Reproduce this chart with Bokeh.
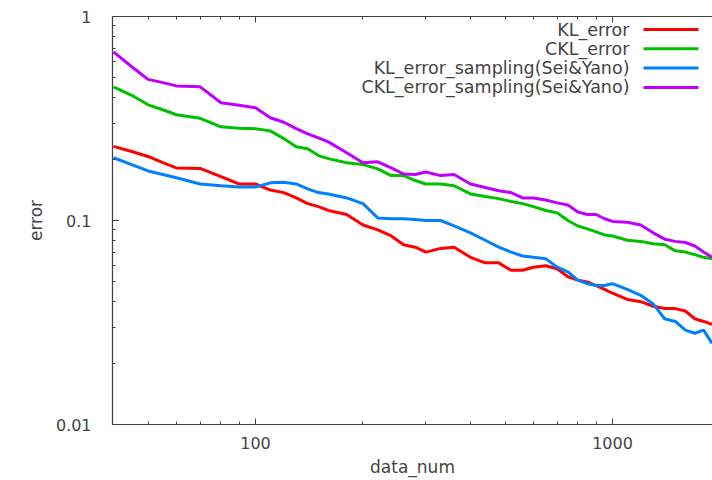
from bokeh.plotting import figure
from bokeh.models import Range1d, LogAxis, FixedTicker, CustomJSTickFormatter, Label, Arrow
from bokeh.embed import file_html
from bokeh.resources import INLINE

# ---- data ----
data_num = [40, 45, 50, 55, 60, 70, 80, 90, 100, 110, 120, 130, 140, 150, 160, 180,
            200, 220, 240, 260, 280, 300, 330, 360, 400, 440, 480, 520, 560, 600,
            650, 700, 750, 800, 850, 900, 950, 1000, 1100, 1200, 1300, 1400, 1500,
            1600, 1700, 1800, 1900]

kl_error = [.231, .218, .206, .192, .181, .180, .164, .151, .151, .141,
            .137, .129, .121, .117, .112, .107, .095, .090, .084, .076,
            .074, .070, .073, .074, .066, .062, .062, .057, .057, .059,
            .060, .058, .053, .051, .050, .048, .046, .044, .041, .040,
            .038, .037, .037, .036, .033, .032, .031]

ckl_error = [.452, .411, .369, .349, .330, .317, .288, .283, .282, .275,
             .252, .230, .225, .208, .201, .192, .188, .179, .166, .166,
             .157, .151, .151, .148, .135, .131, .128, .124, .121, .117,
             .112, .109, .100, .094, .091, .088, .085, .084, .080, .079,
             .077, .076, .071, .070, .068, .066, .065]

kl_error_sampling = [.203, .188, .175, .168, .162, .151, .148, .146, .146, .153,
                     .154, .151, .143, .137, .135, .129, .121, .103, .102, .102,
                     .101, .100, .100, .094, .087, .080, .074, .070, .067, .066,
                     .065, .059, .056, .051, .049, .048, .048, .049, .046, .043,
                     .039, .033, .032, .029, .028, .029, .025]

ckl_error_sampling = [.671, .567, .492, .474, .457, .452, .378, .367, .357, .319,
                      .303, .282, .266, .254, .243, .215, .192, .194, .181, .169,
                      .168, .173, .166, .168, .151, .145, .140, .137, .129, .129,
                      .126, .122, .119, .110, .107, .107, .102, .099, .098, .095,
                      .087, .081, .079, .078, .075, .070, .066]

series_names = ["KL_error", "CKL_error", "KL_error_sampling(Sei&Yano)",
                "CKL_error_sampling(Sei&Yano)"]
series_values = [kl_error, ckl_error, kl_error_sampling, ckl_error_sampling]
series_colors = ["#ff0000", "#00c000", "#0080ff", "#c000ff"]

x_major = [100, 1000]
x_minor = [50, 60, 70, 80, 90, 200, 300, 400, 500, 600, 700, 800, 900, 2000]
y_major = [0.01, 0.1, 1]
y_minor = [0.02, 0.03, 0.04, 0.05, 0.06, 0.07, 0.08, 0.09,
           0.2, 0.3, 0.4, 0.5, 0.6, 0.7, 0.8, 0.9]

FONT = "DejaVu Sans"
TXT = "#444444"
AX = "#404040"

p = figure(width=712, height=480, x_axis_type="log", y_axis_type="log",
           x_range=Range1d(39.75, 1906), y_range=Range1d(0.01, 1),
           output_backend="svg", toolbar_location=None,
           min_border_left=112, min_border_right=0, min_border_top=16,
           min_border_bottom=56)
p.outline_line_color = None
p.xgrid.visible = False
p.ygrid.visible = False
p.background_fill_color = "white"
p.border_fill_color = "white"

fmt = CustomJSTickFormatter(code="return tick.toString()")


def style_axis(ax, label_size="16px"):
    ax.axis_line_color = AX
    ax.axis_line_width = 1.2
    ax.major_tick_line_color = AX
    ax.minor_tick_line_color = AX
    ax.major_tick_in = 6
    ax.major_tick_out = 0
    ax.minor_tick_in = 3
    ax.minor_tick_out = 0
    ax.major_label_text_font = FONT
    ax.major_label_text_font_size = label_size
    ax.major_label_text_color = TXT
    ax.axis_label_text_font = FONT
    ax.axis_label_text_font_size = "17px"
    ax.axis_label_text_font_style = "normal"
    ax.axis_label_text_color = TXT


xa = p.xaxis[0]
xa.ticker = FixedTicker(ticks=x_major, minor_ticks=x_minor)
xa.formatter = fmt
xa.axis_label = "data_num"
style_axis(xa)
xa.major_label_standoff = 12
xa.axis_label_standoff = 5

ya = p.yaxis[0]
ya.ticker = FixedTicker(ticks=y_major, minor_ticks=y_minor)
ya.formatter = fmt
ya.axis_label = "error"
style_axis(ya)
ya.major_label_standoff = 21
ya.axis_label_standoff = 7

top = LogAxis(ticker=FixedTicker(ticks=x_major, minor_ticks=x_minor),
              formatter=CustomJSTickFormatter(code="return ''"))
style_axis(top)
top.major_label_standoff = 0
top.major_label_text_font_size = "1px"
p.add_layout(top, "above")

for name, vals, col in zip(series_names, series_values, series_colors):
    p.line(data_num, vals, line_color=col, line_width=3)

# legend (text right-aligned, sample line on the right)
for i, (name, col) in enumerate(zip(series_names, series_colors)):
    yy = 395 - 19.3 * i
    p.add_layout(Label(x=517, y=yy, x_units="screen", y_units="screen", text=name,
                       text_align="right", text_baseline="middle",
                       text_font=FONT, text_font_size="17.5px", text_color=TXT))
    p.add_layout(Arrow(end=None, x_start=531, y_start=yy, x_end=586, y_end=yy,
                       start_units="screen", end_units="screen",
                       line_color=col, line_width=3))

open("out.html", "w").write(file_html(p, INLINE))
